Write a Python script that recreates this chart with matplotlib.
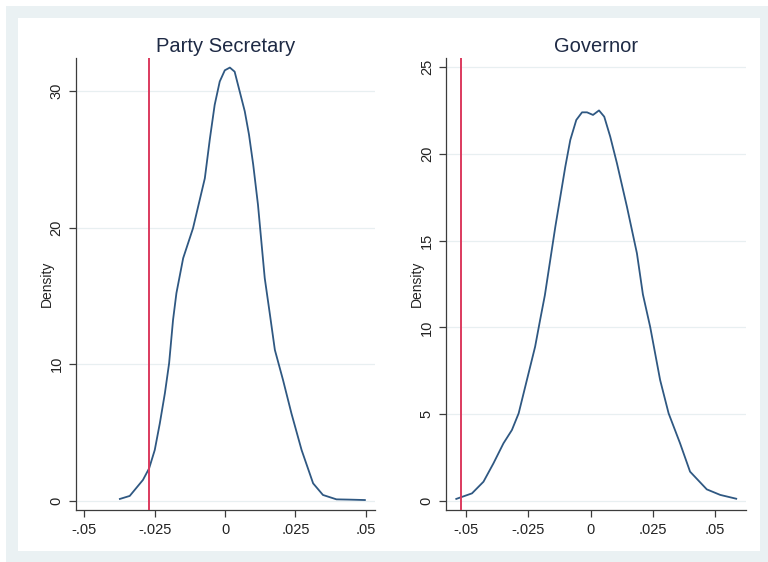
import matplotlib.pyplot as plt
from matplotlib.patches import Rectangle

# kernel density traces
ps_x = [-0.0374, -0.0339, -0.0292, -0.0270, -0.0250, -0.0232, -0.0214, -0.0199, -0.0185,
        -0.0173, -0.0149, -0.0114, -0.0072, -0.0054, -0.0037, -0.0019, -0.0001, 0.0017,
        0.0034, 0.0052, 0.0070, 0.0085, 0.0100, 0.0117, 0.0129, 0.0141, 0.0159, 0.0177,
        0.0206, 0.0236, 0.0272, 0.0313, 0.0348, 0.0396, 0.0443, 0.0497]
ps_y = [0.15, 0.37, 1.54, 2.39, 3.73, 5.68, 7.88, 10.07, 13.24,
        15.2, 17.76, 19.95, 23.6, 26.5, 28.97, 30.68, 31.5, 31.7,
        31.4, 29.95, 28.5, 26.8, 24.6, 21.66, 18.97, 16.3, 13.7, 11.05,
        8.85, 6.4, 3.73, 1.29, 0.44, 0.12, 0.1, 0.07]
ps_line = -0.0271

gov_x = [-0.0538, -0.0475, -0.0429, -0.0389, -0.0349, -0.0315, -0.0288, -0.0255, -0.0222,
         -0.0202, -0.0183, -0.0141, -0.0101, -0.0081, -0.0057, -0.0034, -0.0014, 0.0010,
         0.0034, 0.0055, 0.0079, 0.0106, 0.0146, 0.0186, 0.0210, 0.0239, 0.0279, 0.0313,
         0.0359, 0.0399, 0.0466, 0.0520, 0.0584]
gov_y = [0.12, 0.44, 1.11, 2.17, 3.32, 4.09, 5.05, 6.97, 8.89,
         10.43, 11.85, 15.8, 19.26, 20.8, 21.95, 22.39, 22.39, 22.24,
         22.5, 22.14, 20.99, 19.45, 16.95, 14.27, 11.9, 10.04, 6.97, 5.05,
         3.32, 1.69, 0.67, 0.35, 0.13]
gov_line = -0.0519

xticks = [-0.05, -0.025, 0, 0.025, 0.05]
xlabels = ['-.05', '-.025', '0', '.025', '.05']

line_col = '#2f5882'
red_col = '#dc3a5e'
grid_col = '#e8eff1'
axis_col = '#3c3c3c'
text_col = '#222222'

plt.rcParams['font.family'] = ['Liberation Sans', 'DejaVu Sans']

fig = plt.figure(figsize=(7.68, 5.62), dpi=100)
fig.patches.append(Rectangle((6 / 768, 0), 1, 1 - 6 / 562, transform=fig.transFigure,
                             facecolor='#eaf1f3', edgecolor='none', zorder=-2))
fig.patches.append(Rectangle((18 / 768, 11 / 562), 742 / 768, 533 / 562,
                             transform=fig.transFigure, facecolor='white',
                             edgecolor='none', zorder=-1))

panels = [
    ([76 / 768, 0.0925, 299 / 768, 0.8043], ps_x, ps_y, ps_line, 'Party Secretary',
     (-0.053, 0.0533), (-0.66, 32.4), [0, 10, 20, 30]),
    ([446.3 / 768, 0.0925, 299.4 / 768, 0.8043], gov_x, gov_y, gov_line, 'Governor',
     (-0.0578, 0.0622), (-0.52, 25.52), [0, 5, 10, 15, 20, 25]),
]

for rect, x, y, vline, title, xlim, ylim, yticks in panels:
    ax = fig.add_axes(rect)
    ax.set_facecolor('none')
    for yt in yticks:
        ax.axhline(yt, color=grid_col, lw=0.9, zorder=0)
    ax.plot(x, y, color=line_col, lw=1.3, zorder=2)
    ax.axvline(vline, color=red_col, lw=1.4, zorder=3)
    ax.set_xlim(*xlim)
    ax.set_ylim(*ylim)
    ax.set_xticks(xticks)
    ax.set_xticklabels(xlabels)
    ax.set_yticks(yticks)
    ax.set_yticklabels([str(v) for v in yticks], rotation=90, va='center')
    for s in ['top', 'right']:
        ax.spines[s].set_visible(False)
    for s in ['left', 'bottom']:
        ax.spines[s].set_color(axis_col)
        ax.spines[s].set_linewidth(0.9)
    ax.tick_params(direction='out', length=5, width=0.9, color=axis_col,
                   labelsize=10.5, labelcolor=text_col, pad=4)
    ax.set_ylabel('Density', fontsize=10, color=text_col, labelpad=-3)
    ax.set_title(title, fontsize=14.5, color='#1e2a45', pad=4)

fig.savefig('out.png', dpi=100, facecolor='white')
